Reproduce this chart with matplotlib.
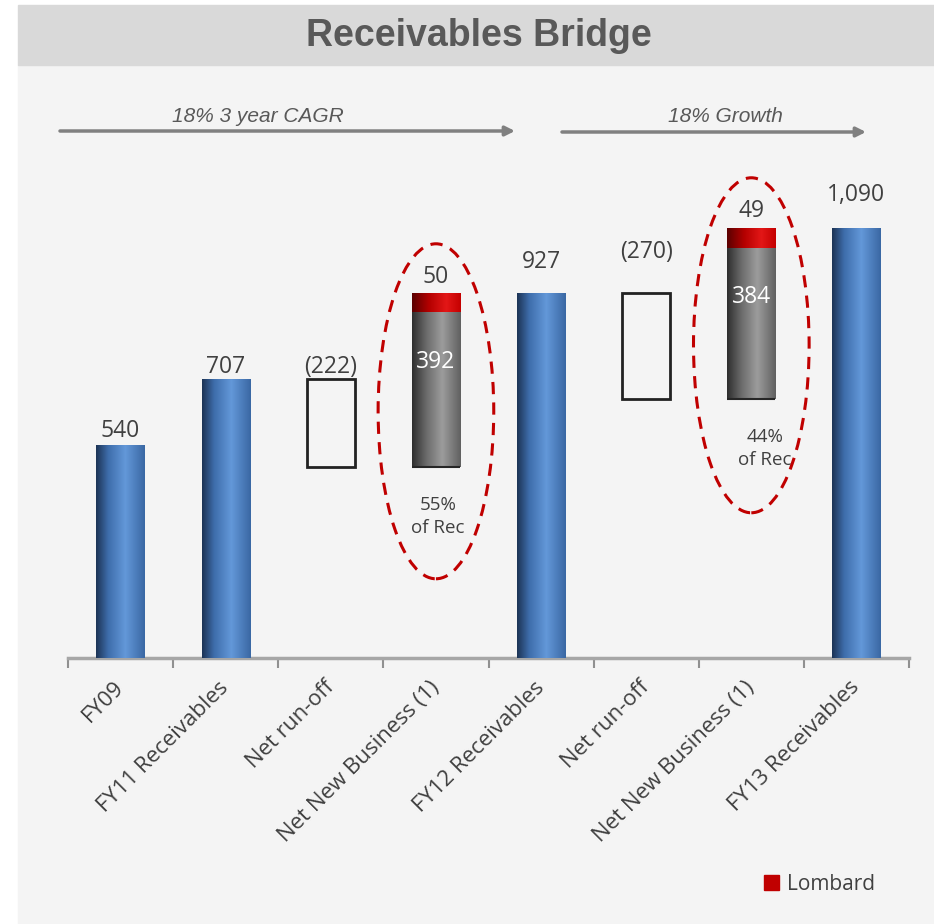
import numpy as np
import matplotlib.pyplot as plt
from matplotlib.colors import LinearSegmentedColormap
from matplotlib.patches import Rectangle, Ellipse, FancyArrowPatch

# Receivables bridge (m)
categories = ['FY09', 'FY11 Receivables', 'Net run-off', 'Net New Business (1)',
              'FY12 Receivables', 'Net run-off', 'Net New Business (1)', 'FY13 Receivables']
kinds = ['total', 'total', 'runoff', 'new', 'total', 'runoff', 'new', 'total']
values = [540, 707, -222, 392, 927, -270, 384, 1090]
lombard = [0, 0, 0, 50, 0, 0, 49, 0]
share_of_rec = ['', '', '', '55%', '', '', '44%', '']
growth_notes = ['18% 3 year CAGR', '18% Growth']

# label gap above each column (points)
label_gap = [6, 4.5, 4.5, 7, 18, 25, 8, 19.5]
note_dx = [0, 0, 0, 0.02, 0, 0, 0.13, 0]

W, H = 934, 924
TXT = '#404040'
lab_font = 'Open Sans'
arial = 'Liberation Sans'

blue = LinearSegmentedColormap.from_list('blue', [(0, '#1c3354'), (0.25, '#3e6dab'),
                                                  (0.6, '#6398d9'), (1, '#3a67a3')])
grey = LinearSegmentedColormap.from_list('grey', [(0, '#2e2e2e'), (0.3, '#6c6c6c'),
                                                  (0.62, '#9c9c9c'), (1, '#606060')])
red = LinearSegmentedColormap.from_list('red', [(0, '#5a0000'), (0.35, '#b40000'),
                                                (0.7, '#e31717'), (1, '#c40000')])


def px(x, y):
    return (x / W, 1 - y / H)


def shaded_bar(ax, x, bottom, height, cmap, width=0.46, z=3):
    bar = ax.bar(x, height, width, bottom=bottom, color='none', linewidth=0, zorder=z)[0]
    img = ax.imshow(np.linspace(0, 1, 256)[None, :], cmap=cmap, aspect='auto',
                    extent=(x - width / 2, x + width / 2, bottom, bottom + height),
                    interpolation='bilinear', zorder=z)
    img.set_clip_path(bar)
    return bar


fig = plt.figure(figsize=(W / 100, H / 100), dpi=100)
fig.patch.set_facecolor('white')
fig.add_artist(Rectangle((18 / W, 0), 1, (H - 65) / H, transform=fig.transFigure,
                         color='#f4f4f4', zorder=-10))
fig.add_artist(Rectangle((18 / W, (H - 65) / H), 1, 60 / H, transform=fig.transFigure,
                         color='#d9d9d9', zorder=-10))
fig.text(*px(479, 36), 'Receivables Bridge', ha='center', va='center', fontsize=27,
         fontweight='bold', color='#595959', family=arial)

ax = fig.add_axes([68 / W, (H - 658) / H, (909 - 68) / W, 508 / H])
ax.set_facecolor('none')

level = 0
for i, (kind, v) in enumerate(zip(kinds, values)):
    if kind == 'total':
        shaded_bar(ax, i, 0, v, blue)
        level = v
        top = v
        text = f'{v:,}'
    elif kind == 'runoff':
        ax.bar(i, v, 0.46, bottom=level, color='#f4f4f4', edgecolor='#222222',
               linewidth=2, zorder=3)
        top = level
        level += v
        text = f'({-v})'
    else:
        shaded_bar(ax, i, level, v, grey)
        shaded_bar(ax, i, level + v, lombard[i], red)
        ax.hlines(level, i - 0.23, i + 0.23, color='#262626', lw=1.5, zorder=4)
        ax.text(i, level + v - 126, str(v), ha='center', va='center', color='white',
                fontsize=16.5, family=lab_font, zorder=5)
        ax.text(i + note_dx[i], level - 125, f'{share_of_rec[i]}\nof Rec', ha='center',
                va='center', color=TXT, fontsize=13.5, family=lab_font, linespacing=1.35)
        mid = level + (v + lombard[i]) / 2
        ax.add_patch(Ellipse((i, mid - 80), 1.1, 850, fill=False, ec='#c00000', lw=2.2,
                             ls=(0, (4, 2.7)), zorder=6))
        top = level + v + lombard[i]
        level = top
        text = str(lombard[i])
    ax.annotate(text, (i, top), xytext=(0, label_gap[i]), textcoords='offset points',
                ha='center', va='baseline', color=TXT, fontsize=16.5, family=lab_font)

ax.set_xlim(-0.5, len(categories) - 0.5)
ax.set_ylim(0, 1289)
for s in ['top', 'left', 'right']:
    ax.spines[s].set_visible(False)
ax.spines['bottom'].set_color('#a6a6a6')
ax.spines['bottom'].set_linewidth(2.5)
ax.set_yticks([])
ax.set_xticks(np.arange(len(categories)))
ax.set_xticklabels(categories, rotation=45, ha='right', va='center', rotation_mode='anchor',
                   fontsize=16, color=TXT, family=lab_font)
ax.tick_params(axis='x', which='major', length=0, pad=19)
ax.set_xticks(np.arange(len(categories) + 1) - 0.5, minor=True)
ax.tick_params(axis='x', which='minor', length=7, width=1.5, color='#909090')

# growth arrows
for (x0, x1, y), (tx, ty), note in zip([(60, 515, 131), (562, 866, 132)],
                                        [(258, 116), (725, 117)], growth_notes):
    fig.add_artist(FancyArrowPatch(px(x0, y), px(x1, y), transform=fig.transFigure,
                                   arrowstyle='-|>', mutation_scale=14, lw=2.5,
                                   color='#808080', shrinkA=0, shrinkB=0))
    fig.text(*px(tx, ty), note, ha='center', va='center', fontsize=15, style='italic',
             color='#595959', family=arial)

# legend
fig.add_artist(Rectangle(px(764, 890), 15 / W, 15 / H, transform=fig.transFigure,
                         color='#c00000'))
fig.text(*px(787, 884), 'Lombard', ha='left', va='center', fontsize=15, color=TXT,
         family=lab_font)

fig.savefig('out.png', dpi=100)
